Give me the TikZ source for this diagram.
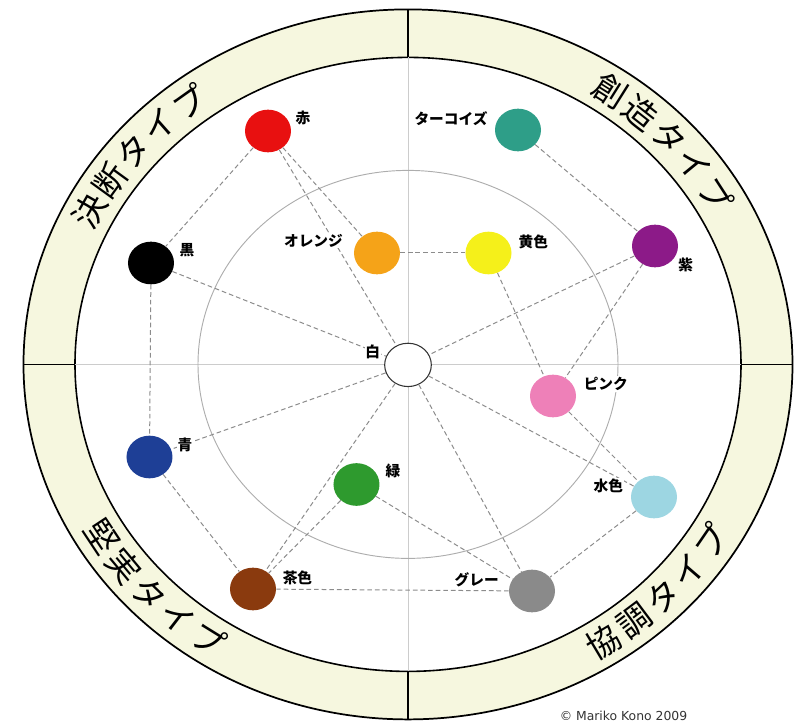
\documentclass[tikz,border=0pt]{standalone}
\usepackage{fontspec}
\setmainfont{Noto Sans CJK JP}
\newfontfamily\copyfont{DejaVu Sans}
\usetikzlibrary{shapes.geometric}
\definecolor{band}{HTML}{F6F7DF}
\definecolor{cred}{HTML}{E81010}
\definecolor{corange}{HTML}{F5A318}
\definecolor{cyellow}{HTML}{F5F01A}
\definecolor{cturq}{HTML}{2E9E88}
\definecolor{cpurple}{HTML}{8C1A88}
\definecolor{cpink}{HTML}{EE80B8}
\definecolor{clblue}{HTML}{9DD6E2}
\definecolor{cgray}{HTML}{8A8A8A}
\definecolor{cgreen}{HTML}{2E9A2E}
\definecolor{cblue}{HTML}{1E3F96}
\definecolor{cbrown}{HTML}{8A3A0E}
\definecolor{dashgray}{HTML}{8C8C8C}
\definecolor{guidegray}{HTML}{CCCCCC}
\definecolor{midgray}{HTML}{ADADAD}
\begin{document}
\begin{tikzpicture}[x=0.75pt,y=0.75pt,
  dot/.style={ellipse, inner sep=0pt, minimum width=34.5pt, minimum height=32pt},
  conn/.style={draw=dashgray, dash pattern=on 3.5pt off 2.2pt, line width=0.75pt},
  lbl/.style={fill=white, inner sep=0.6pt, font=\fontsize{11}{12}\selectfont\bfseries},
  bigtxt/.style={font=\fontsize{25}{26}\selectfont, inner sep=0pt},
  ring/.style={line width=1.3pt, draw=black},
  guide/.style={draw=guidegray, line width=0.6pt},
]
\useasboundingbox (-408,-356.6) rectangle (392,364.4);
\clip (-408,-356.6) rectangle (392,364.4);
% band
\fill[band, even odd rule] (0,0) ellipse [x radius=384.5, y radius=355]
                           (0,0) ellipse [x radius=333, y radius=307];
\draw[ring] (0,0) ellipse [x radius=384.5, y radius=355];
\draw[ring, line width=1.2pt] (0,0) ellipse [x radius=333, y radius=307];
% dividers
\coordinate (dtO) at (0,355);  \coordinate (dtI) at (0,307);
\coordinate (dbO) at (0,-355); \coordinate (dbI) at (0,-307);
\coordinate (dlO) at (-384.5,0); \coordinate (dlI) at (-333,0);
\coordinate (drO) at (384.5,0);  \coordinate (drI) at (333,0);
\draw[ring, line width=1.2pt] (dtO) -- (dtI);
\draw[ring, line width=1.2pt] (dbO) -- (dbI);
\draw[ring, line width=1.2pt] (dlO) -- (dlI);
\draw[ring, line width=1.2pt] (drO) -- (drI);
% guides
\draw[guide] (dtI) -- (dbI);
\draw[guide] (dlI) -- (drI);
\draw[draw=midgray, line width=0.7pt] (0,0) ellipse [x radius=210, y radius=194];
% colour dots
\node[dot, fill=white, draw=black!80, line width=0.8pt, minimum width=35pt, minimum height=32.5pt] (white) at (0,-0.5) {};
\node[dot, fill=cred]    (red)    at (-140,233.4) {};
\node[dot, fill=black]   (black)  at (-257,101.4) {};
\node[dot, fill=corange] (orange) at (-31,111.4) {};
\node[dot, fill=cyellow] (yellow) at (80.5,111.4) {};
\node[dot, fill=cturq]   (turq)   at (110,234.4) {};
\node[dot, fill=cpurple] (purple) at (247,118.4) {};
\node[dot, fill=cpink]   (pink)   at (145,-31.6) {};
\node[dot, fill=clblue]  (lblue)  at (246,-132.6) {};
\node[dot, fill=cgray]   (gray)   at (124,-226.6) {};
\node[dot, fill=cgreen]  (green)  at (-51.5,-120.1) {};
\node[dot, fill=cblue]   (blue)   at (-258.5,-92.6) {};
\node[dot, fill=cbrown]  (brown)  at (-155,-224.6) {};
% connectors
\draw[conn] (red) -- (black);
\draw[conn] (red) -- (white);
\draw[conn] (red) -- (orange);
\draw[conn] (black) -- (white);
\draw[conn] (black) -- (blue);
\draw[conn] (orange) -- (yellow);
\draw[conn] (yellow) -- (pink);
\draw[conn] (turq) -- (purple);
\draw[conn] (purple) -- (white);
\draw[conn] (purple) -- (pink);
\draw[conn] (pink) -- (lblue);
\draw[conn] (white) -- (lblue);
\draw[conn] (white) -- (gray);
\draw[conn] (lblue) -- (gray);
\draw[conn] (green) -- (gray);
\draw[conn] (gray) -- (brown);
\draw[conn] (green) -- (brown);
\draw[conn] (white) -- (brown);
\draw[conn] (white) -- (blue);
\draw[conn] (blue) -- (brown);
% labels
\node[lbl] (lred)    at (-105,246.4)  {赤};
\node[lbl] (lblack)  at (-221,114.4)  {黒};
\node[lbl] (lorange) at (-94.5,123.9) {オレンジ};
\node[lbl] (lyellow) at (125.3,122.7) {黄色};
\node[lbl] (lturq)   at (43,246.1)    {ターコイズ};
\node[lbl] (lpurple) at (277.7,99.4)  {紫};
\node[lbl] (lpink)   at (197.8,-19.6) {ピンク};
\node[lbl] (llblue)  at (200.3,-121.6) {水色};
\node[lbl] (lgray)   at (68.7,-215.6) {グレー};
\node[lbl] (lgreen)  at (-15,-106.6)  {緑};
\node[lbl] (lblue)   at (-223,-80.6)  {青};
\node[lbl] (lbrown)  at (-110.5,-213.9) {茶色};
\node[lbl] (lwhite)  at (-35.3,12.1)  {白};
% ring texts
\foreach \ch [count=\i from 0] in {決,断,タ,イ,プ} {
  \pgfmathsetmacro\t{152.4-\i*6.2}
  \pgfmathsetmacro\r{atan2(-331*cos(\t), 358.75*sin(\t))}
  \node[bigtxt, rotate=\r] (ka\i) at (\t:358.75 and 331) {\ch};
}
\foreach \ch [count=\i from 0] in {創,造,タ,イ,プ} {
  \pgfmathsetmacro\t{55.7-\i*6.2}
  \pgfmathsetmacro\r{atan2(-331*cos(\t), 358.75*sin(\t))}
  \node[bigtxt, rotate=\r] (kb\i) at (\t:358.75 and 331) {\ch};
}
\foreach \ch [count=\i from 0] in {堅,実,タ,イ,プ} {
  \pgfmathsetmacro\t{211.4+\i*6.2}
  \pgfmathsetmacro\r{atan2(331*cos(\t), -358.75*sin(\t))}
  \node[bigtxt, rotate=\r] (kc\i) at (\t:358.75 and 331) {\ch};
}
\foreach \ch [count=\i from 0] in {協,調,タ,イ,プ} {
  \pgfmathsetmacro\t{302.9+\i*6.2}
  \pgfmathsetmacro\r{atan2(331*cos(\t), -358.75*sin(\t))}
  \node[bigtxt, rotate=\r] (kd\i) at (\t:358.75 and 331) {\ch};
}
% copyright
\node[font=\copyfont\fontsize{9.3}{10}\selectfont, text=black!80, anchor=base, inner sep=0pt] (copy) at (215.5,-356.2) {© Mariko Kono 2009};
\end{tikzpicture}
\end{document}
